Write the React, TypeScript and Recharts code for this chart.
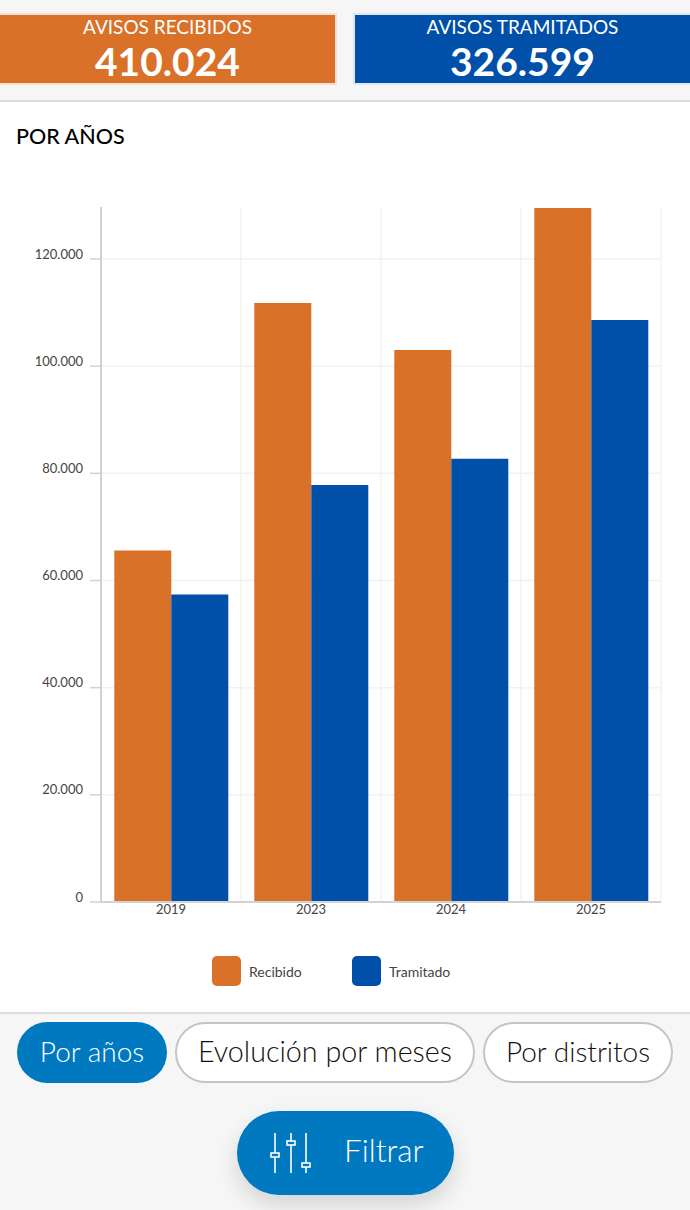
import { BarChart, Bar, XAxis, YAxis, CartesianGrid, Legend } from 'recharts';

const years = ['2019', '2023', '2024', '2025'];
const recibido = [65600, 111800, 103000, 129500];
const tramitado = [57400, 77800, 82700, 108600];
const yTicks = [0, 20000, 40000, 60000, 80000, 100000, 120000];
const tabs = ['Evolución por meses', 'Por distritos'];

const ORANGE = '#d97128';
const BLUE = '#004fa8';
const ACTION = '#0079c1';
const FONT = 'Lato, "Noto Sans", sans-serif';

const rows = years.map((year, i) => ({ year, Recibido: recibido[i], Tramitado: tramitado[i] }));

const formatTick = (v: number) => v.toLocaleString('de-DE');

function KpiCard({ left, width, color, border, title, value }: any) {
  return (
    <div
      style={{
        position: 'absolute',
        left,
        top: 13,
        width,
        height: 72,
        boxSizing: 'border-box',
        background: color,
        border: `2px solid ${border}`,
        color: '#fff',
        textAlign: 'center',
      }}
    >
      <div style={{ fontSize: 19, lineHeight: '26px', marginTop: -1 }}>{title}</div>
      <div style={{ fontSize: 39, fontWeight: 700, lineHeight: '42px' }}>{value}</div>
    </div>
  );
}

function LegendContent({ payload }: any) {
  return (
    <div style={{ display: 'flex', justifyContent: 'center', height: 30, paddingLeft: 14 }}>
      {payload.map((item: any) => (
        <div key={item.value} style={{ display: 'flex', alignItems: 'center', width: 140 }}>
          <span style={{ width: 29, height: 30, borderRadius: 5, background: item.color }} />
          <span style={{ marginLeft: 8, fontSize: 14, color: '#444' }}>{item.value}</span>
        </div>
      ))}
    </div>
  );
}

function Pill({ left, width, active, size = 28, children }: any) {
  return (
    <div
      style={{
        position: 'absolute',
        left,
        top: 1022,
        width,
        height: 61,
        boxSizing: 'border-box',
        borderRadius: 31,
        background: active ? ACTION : '#fff',
        border: active ? 'none' : '2px solid #c4c4c4',
        color: active ? '#fff' : '#111',
        fontSize: size,
        fontWeight: 300,
        lineHeight: active ? '59px' : '55px',
        textAlign: 'center',
      }}
    >
      {children}
    </div>
  );
}

function FilterIcon() {
  return (
    <svg width="44" height="44" viewBox="0 0 44 44" style={{ position: 'absolute', left: 31, top: 20 }} fill="none" stroke="#fff" strokeWidth="1.6">
      <path d="M7 2V42M23 2V42M38 2V42" />
      <rect x="3" y="22" width="8" height="4" fill={ACTION} />
      <rect x="19" y="10" width="8" height="4" fill={ACTION} />
      <rect x="34" y="32" width="8" height="4" fill={ACTION} />
    </svg>
  );
}

export default function App() {
  return (
    <div style={{ position: 'absolute', left: 0, top: 0, width: 690, height: 1210, overflow: 'hidden', background: '#f6f6f6', fontFamily: FONT }}>
      <KpiCard left={-2} width={339} color={ORANGE} border="#f3dfd2" title="AVISOS RECIBIDOS" value="410.024" />
      <KpiCard left={353} width={339} color={BLUE} border="#dde8f4" title="AVISOS TRAMITADOS" value="326.599" />

      <div style={{ position: 'absolute', left: 0, top: 100, width: 690, height: 914, boxSizing: 'border-box', background: '#fff', borderTop: '2px solid #dcdcdc', borderBottom: '2px solid #dcdcdc' }} />
      <div style={{ position: 'absolute', left: 16, top: 122, fontSize: 21.5, fontWeight: 500, color: '#000', lineHeight: '28px' }}>POR AÑOS</div>

      <div style={{ position: 'absolute', left: 0, top: 190 }}>
        <BarChart
          width={690}
          height={810}
          data={rows}
          margin={{ top: 17, right: 29, bottom: 44, left: 0 }}
          barCategoryGap="9.5%"
          barGap={0}
        >
          <CartesianGrid
            stroke="#f2f2f2"
            strokeWidth={1.5}
            horizontalValues={yTicks}
            verticalCoordinatesGenerator={({ offset }: any) =>
              [...years, ''].map((_, i) => offset.left + (i * offset.width) / years.length)
            }
          />
          <XAxis
            dataKey="year"
            tickLine={false}
            axisLine={{ stroke: '#d2d2d2', strokeWidth: 2 }}
            tick={{ fontSize: 13, fill: '#444', fontFamily: FONT, dy: -4 }}
            tickMargin={1}
            height={24}
          />
          <YAxis
            width={101}
            domain={[0, 129700]}
            ticks={yTicks}
            tickFormatter={formatTick}
            allowDataOverflow
            tickSize={11}
            tickLine={{ stroke: '#d2d2d2', strokeWidth: 1.5 }}
            axisLine={{ stroke: '#d2d2d2', strokeWidth: 2 }}
            tick={{ fontSize: 13, fill: '#444', fontFamily: FONT, dy: -5 }}
            tickMargin={7}
          />
          <Legend verticalAlign="bottom" content={<LegendContent />} wrapperStyle={{ bottom: 14, left: 0, width: 690 }} />
          <Bar dataKey="Recibido" fill={ORANGE} isAnimationActive={false} />
          <Bar dataKey="Tramitado" fill={BLUE} isAnimationActive={false} />
        </BarChart>
      </div>

      <Pill left={17} width={150} active>Por años</Pill>
      <Pill left={175} width={300} size={28.7}>{tabs[0]}</Pill>
      <Pill left={483} width={190}>{tabs[1]}</Pill>

      <div style={{ position: 'absolute', left: 237, top: 1111, width: 217, height: 84, borderRadius: 42, background: ACTION, boxShadow: '0 10px 22px rgba(0,0,0,0.14)', color: '#fff' }}>
        <FilterIcon />
        <div style={{ position: 'absolute', left: 107, top: 0, fontSize: 31.5, fontWeight: 300, lineHeight: '78px' }}>Filtrar</div>
      </div>
    </div>
  );
}
